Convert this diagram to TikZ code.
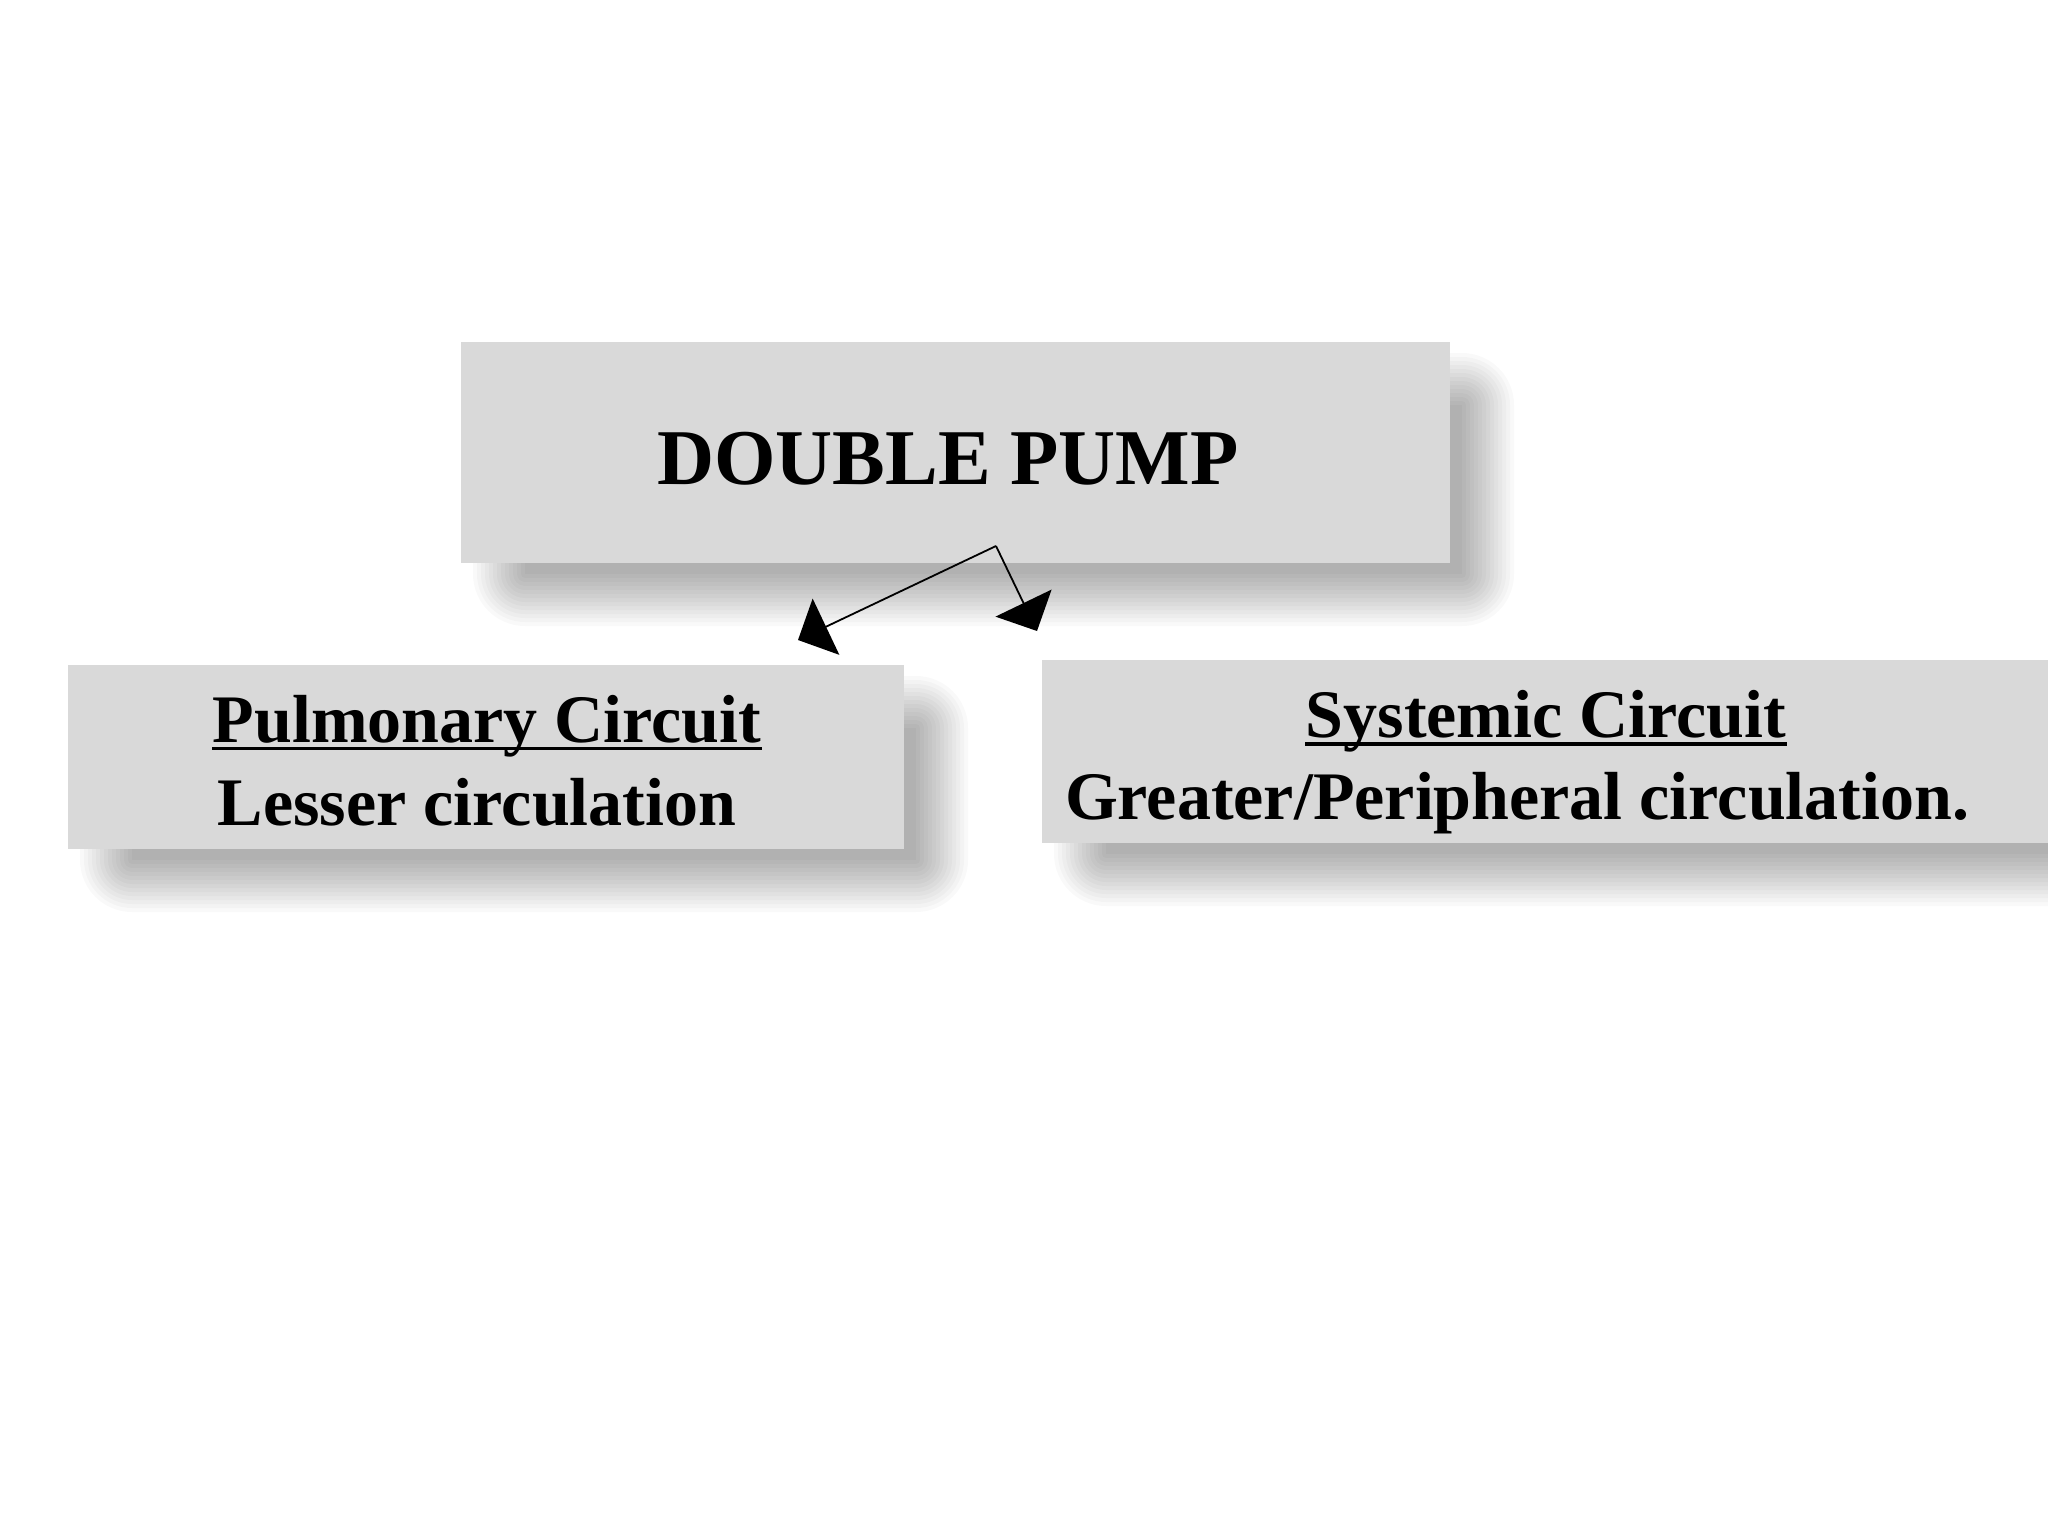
\documentclass[tikz,border=0pt]{standalone}
\usepackage{fontspec}
\setmainfont{Liberation Serif}
\usetikzlibrary{arrows.meta}
\definecolor{boxgray}{HTML}{D9D9D9}
\newcommand\dropshade[4]{%
  \foreach \i in {0,...,13}{%
    \pgfmathsetmacro\e{-26+52*\i/13}%
    \pgfmathsetmacro\rc{max(0.2,(\e+26)*0.5)}%
    \fill[black,opacity=0.0252,rounded corners=\rc pt] ({#1+38-\e},{#2+37-\e}) rectangle ({#3+38+\e},{#4+37+\e});
  }}
\begin{document}
\begin{tikzpicture}[x=0.5pt,y=-0.5pt,
  boxnode/.style={fill=boxgray,draw=none,inner sep=0pt},
  bigtext/.style={font=\fontsize{39.5}{47}\selectfont\bfseries,inner sep=0pt,anchor=base},
  subtext/.style={font=\fontsize{34}{41}\selectfont\bfseries,inner sep=0pt,anchor=base},
  uline/.style={line width=1.65pt},
  conn/.style={line width=0.9pt,-{Triangle[length=15.5pt,width=31pt]}}]
\useasboundingbox (0,0) rectangle (2048,1536);
\clip (0,0) rectangle (2048,1536);
\fill[white] (0,0) rectangle (2048,1536);
% shadows
\dropshade{461}{342}{1450}{563}
\dropshade{68}{665}{904}{849}
\dropshade{1042}{660}{2100}{843}
% boxes
\node[boxnode,minimum width=494.5pt,minimum height=110.5pt] (pump) at (955.5,452.5) {};
\node[boxnode,minimum width=418pt,minimum height=92pt] (pulbox) at (486,757) {};
\node[boxnode,minimum width=529pt,minimum height=91.5pt] (sysbox) at (1571,751.5) {};
% texts
\node[bigtext] (dp) at (948,484.3) {DOUBLE PUMP};
\node[subtext] (pul) at (487,742.7) {Pulmonary Circuit};
\node[subtext] (les) at (477,825) {Lesser circulation};
\node[subtext] (sys) at (1546,737.7) {Systemic Circuit};
\node[subtext] (gre) at (1517,819) {Greater/Peripheral circulation.};
\draw[uline] ([yshift=-2.8pt]pul.base west) -- ([yshift=-2.8pt]pul.base east);
\draw[uline] ([yshift=-3.1pt]sys.base west) -- ([yshift=-3.1pt]sys.base east);
% connectors
\coordinate (split) at (996,546);
\coordinate (tipL) at (798,640);
\coordinate (tipR) at (1037,631);
\draw[conn] (split) -- (tipL);
\draw[conn] (split) -- (tipR);
\end{tikzpicture}
\end{document}
